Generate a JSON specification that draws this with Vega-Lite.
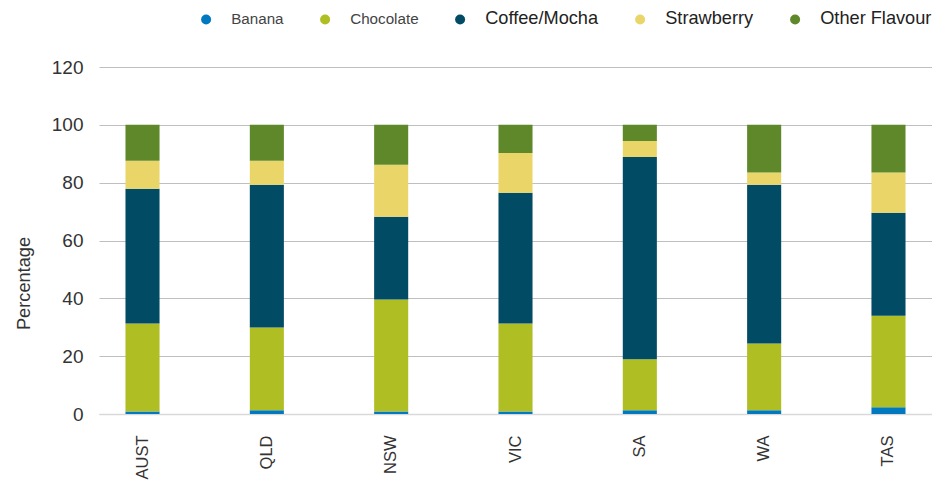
{
  "$schema": "https://vega.github.io/schema/vega-lite/v6.json",
  "width": 833,
  "height": 347,
  "autosize": "none",
  "padding": {"left": 99, "top": 67, "right": 0, "bottom": 67},
  "background": "white",
  "config": {
    "view": {"stroke": null},
    "font": "Liberation Sans"
  },
  "data": {
    "values": [
      {"region": "AUST", "flavour": "Banana", "pct": 0.9},
      {"region": "AUST", "flavour": "Chocolate", "pct": 30.4},
      {"region": "AUST", "flavour": "Coffee/Mocha", "pct": 46.6},
      {"region": "AUST", "flavour": "Strawberry", "pct": 9.7},
      {"region": "AUST", "flavour": "Other Flavour", "pct": 12.4},
      {"region": "QLD", "flavour": "Banana", "pct": 1.3},
      {"region": "QLD", "flavour": "Chocolate", "pct": 28.6},
      {"region": "QLD", "flavour": "Coffee/Mocha", "pct": 49.4},
      {"region": "QLD", "flavour": "Strawberry", "pct": 8.3},
      {"region": "QLD", "flavour": "Other Flavour", "pct": 12.4},
      {"region": "NSW", "flavour": "Banana", "pct": 0.9},
      {"region": "NSW", "flavour": "Chocolate", "pct": 38.7},
      {"region": "NSW", "flavour": "Coffee/Mocha", "pct": 28.6},
      {"region": "NSW", "flavour": "Strawberry", "pct": 18.0},
      {"region": "NSW", "flavour": "Other Flavour", "pct": 13.8},
      {"region": "VIC", "flavour": "Banana", "pct": 0.9},
      {"region": "VIC", "flavour": "Chocolate", "pct": 30.4},
      {"region": "VIC", "flavour": "Coffee/Mocha", "pct": 45.2},
      {"region": "VIC", "flavour": "Strawberry", "pct": 13.8},
      {"region": "VIC", "flavour": "Other Flavour", "pct": 9.7},
      {"region": "SA", "flavour": "Banana", "pct": 1.3},
      {"region": "SA", "flavour": "Chocolate", "pct": 17.6},
      {"region": "SA", "flavour": "Coffee/Mocha", "pct": 70.0},
      {"region": "SA", "flavour": "Strawberry", "pct": 5.5},
      {"region": "SA", "flavour": "Other Flavour", "pct": 5.6},
      {"region": "WA", "flavour": "Banana", "pct": 1.3},
      {"region": "WA", "flavour": "Chocolate", "pct": 23.1},
      {"region": "WA", "flavour": "Coffee/Mocha", "pct": 54.9},
      {"region": "WA", "flavour": "Strawberry", "pct": 4.2},
      {"region": "WA", "flavour": "Other Flavour", "pct": 16.5},
      {"region": "TAS", "flavour": "Banana", "pct": 2.3},
      {"region": "TAS", "flavour": "Chocolate", "pct": 31.7},
      {"region": "TAS", "flavour": "Coffee/Mocha", "pct": 35.6},
      {"region": "TAS", "flavour": "Strawberry", "pct": 13.9},
      {"region": "TAS", "flavour": "Other Flavour", "pct": 16.5}
    ]
  },
  "transform": [
    {"calculate": "indexof(['Banana','Chocolate','Coffee/Mocha','Strawberry','Other Flavour'], datum.flavour)", "as": "k"}
  ],
  "mark": {"type": "bar"},
  "encoding": {
    "x": {
      "field": "region",
      "type": "nominal",
      "sort": ["AUST", "QLD", "NSW", "VIC", "SA", "WA", "TAS"],
      "scale": {"paddingInner": 0.726, "paddingOuter": 0.213},
      "axis": {
        "title": null,
        "labelAngle": -90,
        "labelFontSize": 16.5,
        "labelColor": "#333333",
        "labelPadding": 21,
        "ticks": false,
        "domainColor": "#d9d9d9",
        "domainWidth": 1.5
      }
    },
    "y": {
      "field": "pct",
      "type": "quantitative",
      "stack": "zero",
      "scale": {"domain": [0, 120], "nice": false},
      "axis": {
        "title": "Percentage",
        "titleFontSize": 18.2,
        "titleFontWeight": "normal",
        "titleColor": "#333333",
        "titleX": -75,
        "titleY": 216,
        "titleBaseline": "middle",
        "values": [0, 20, 40, 60, 80, 100, 120],
        "labelFontSize": 19,
        "labelColor": "#333333",
        "labelPadding": 16,
        "ticks": false,
        "domain": false,
        "gridColor": "#bfbfbf",
        "gridWidth": 1
      }
    },
    "order": {"field": "k", "type": "quantitative", "sort": "ascending"},
    "color": {
      "field": "flavour",
      "type": "nominal",
      "sort": ["Banana", "Chocolate", "Coffee/Mocha", "Strawberry", "Other Flavour"],
      "scale": {
        "domain": ["Banana", "Chocolate", "Coffee/Mocha", "Strawberry", "Other Flavour"],
        "range": ["#0079c1", "#afbe22", "#024b64", "#ead569", "#5e8829"]
      },
      "legend": {
        "title": null,
        "orient": "none",
        "direction": "horizontal",
        "legendX": 98,
        "legendY": -57,
        "symbolType": "circle",
        "symbolSize": 100,
        "symbolStrokeWidth": 0,
        "labelOffset": 16,
        "columnPadding": 32,
        "padding": 0,
        "encode": {
          "labels": {
            "update": {
              "fontSize": {"signal": "datum.value == 'Banana' || datum.value == 'Chocolate' ? 15.2 : 18.2"},
              "fill": {"signal": "datum.value == 'Banana' || datum.value == 'Chocolate' ? '#444444' : '#222222'"}
            }
          }
        }
      }
    }
  }
}
